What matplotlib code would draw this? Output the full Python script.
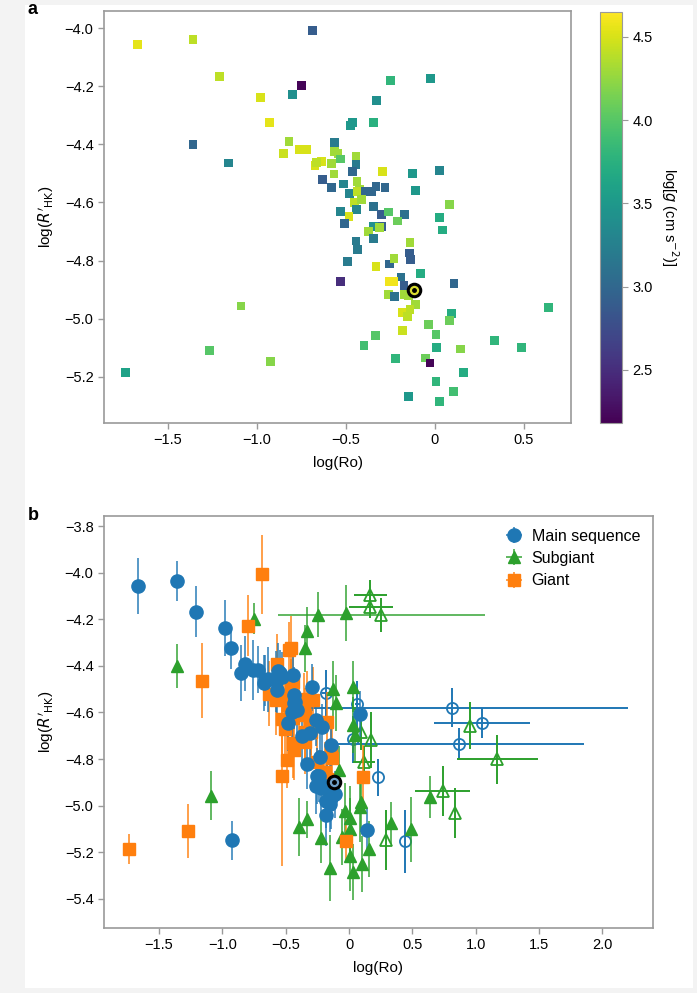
import numpy as np
import matplotlib
matplotlib.use("Agg")
import matplotlib.pyplot as plt
from matplotlib.patches import Rectangle
from matplotlib.ticker import FuncFormatter, MultipleLocator

plt.rcParams['font.family'] = ['Liberation Sans', 'DejaVu Sans']
plt.rcParams['font.size'] = 10

# star table (filled points): log(Ro), log(R'HK), log g, class, error on log(R'HK)
log_ro = [-1.67, -1.36, -1.21, -0.98, -0.93, -1.36, -1.16, -0.687, -0.749, -0.80,
          -0.82, -0.85, -0.76, -0.72, -0.674, -0.637, -0.665, -0.566, -0.565, -0.545,
          -0.530, -0.580, -0.567, -0.630, -0.580, -0.515, -0.530, -0.024, -0.249, -0.330,
          -0.462, -0.474, -0.347, -0.444, -0.444, -0.462, -0.294, -0.125, 0.028, -0.438,
          -0.425, -0.481, -0.433, -0.393, -0.356, -0.331, -0.281, -0.107, 0.084, -0.450,
          -0.412, -0.440, -0.347, -0.300, -0.262, -0.172, 0.028, -0.483, -0.506, -0.300,
          -0.347, -0.375, -0.310, -0.210, -0.347, -0.444, -0.437, -0.490, -0.530, -0.331,
          -0.257, -0.230, -0.140, -0.144, -0.135, -0.079, -0.191, -0.257, -0.234, -0.174,
          0.107, -0.262, -0.225, -0.174, -0.150, -0.109, -0.184, -0.140, -0.153, 0.640,
          0.094, 0.084, -0.034, -0.184, 0.006, -0.333, -0.399, 0.009, 0.144, 0.333,
          0.487, -0.223, -0.054, -0.028, 0.159, 0.006, 0.103, -0.150, 0.028, 0.043,
          -1.090, -1.268, -0.923, -1.740]
log_rhk = [-4.056, -4.037, -4.167, -4.239, -4.323, -4.400, -4.464, -4.008, -4.197, -4.228,
           -4.390, -4.430, -4.417, -4.417, -4.472, -4.458, -4.462, -4.392, -4.423, -4.430,
           -4.450, -4.466, -4.502, -4.520, -4.548, -4.536, -4.630, -4.173, -4.180, -4.249,
           -4.325, -4.334, -4.325, -4.440, -4.470, -4.492, -4.492, -4.500, -4.489, -4.527,
           -4.555, -4.570, -4.561, -4.561, -4.561, -4.544, -4.547, -4.560, -4.607, -4.600,
           -4.590, -4.624, -4.613, -4.641, -4.633, -4.641, -4.653, -4.647, -4.672, -4.682,
           -4.682, -4.699, -4.687, -4.664, -4.725, -4.733, -4.762, -4.803, -4.871, -4.820,
           -4.812, -4.793, -4.739, -4.774, -4.797, -4.846, -4.857, -4.873, -4.873, -4.886,
           -4.879, -4.917, -4.925, -4.917, -4.921, -4.952, -4.978, -4.969, -4.994, -4.963,
           -4.983, -5.006, -5.021, -5.041, -5.055, -5.059, -5.093, -5.099, -5.105, -5.075,
           -5.101, -5.138, -5.136, -5.153, -5.185, -5.217, -5.251, -5.268, -5.286, -4.695,
           -4.957, -5.109, -5.149, -5.187]
log_g = [4.55, 4.40, 4.40, 4.50, 4.55, 3.00, 3.30, 2.90, 2.20, 3.40,
         4.30, 4.45, 4.50, 4.50, 4.50, 4.50, 4.40, 3.20, 4.30, 4.30,
         4.00, 4.30, 4.30, 2.90, 3.00, 3.30, 3.30, 3.50, 3.80, 3.40,
         3.50, 3.50, 3.75, 4.30, 3.20, 3.00, 4.50, 3.50, 3.30, 4.30,
         4.30, 3.30, 4.40, 3.00, 3.00, 3.00, 3.00, 3.50, 4.20, 4.40,
         4.30, 3.30, 3.10, 2.90, 4.00, 3.10, 3.70, 4.50, 3.00, 2.90,
         3.40, 4.30, 4.30, 4.10, 3.20, 3.20, 3.20, 3.20, 2.50, 4.50,
         3.00, 4.30, 4.30, 2.90, 2.90, 3.70, 3.10, 4.60, 4.60, 2.90,
         3.00, 4.30, 3.10, 4.30, 4.30, 4.30, 4.50, 4.40, 4.40, 3.80,
         3.70, 4.10, 4.10, 4.45, 4.00, 4.00, 3.90, 3.70, 4.20, 3.80,
         3.80, 3.80, 4.10, 2.20, 3.70, 3.80, 3.90, 3.50, 3.80, 3.70,
         4.20, 4.00, 4.20, 3.60]
star_class = list("MMMMMSGGSG"
                  "MMMMMMMGMM"
                  "MMMGGGGSSS"
                  "GGSMGGMSSM"
                  "MGMGGGGSMM"
                  "MGGGMGSMGG"
                  "GMMMGGGGGM"
                  "GMMGGSGMMG"
                  "GMMMMMMMMS"
                  "SSSMSSSSMS"
                  "SSSGSSSSSS"
                  "SGMG")
rhk_err = [0.12, 0.085, 0.11, 0.12, 0.09, 0.095, 0.16, 0.17, 0.066, 0.13,
           0.12, 0.12, 0.13, 0.10, 0.12, 0.14, 0.11, 0.13, 0.12, 0.10,
           0.11, 0.13, 0.12, 0.14, 0.15, 0.12, 0.16, 0.12, 0.097, 0.10,
           0.14, 0.12, 0.10, 0.11, 0.13, 0.12, 0.10, 0.12, 0.11, 0.12,
           0.10, 0.14, 0.11, 0.12, 0.13, 0.12, 0.14, 0.12, 0.10, 0.12,
           0.11, 0.13, 0.12, 0.14, 0.11, 0.13, 0.12, 0.12, 0.15, 0.13,
           0.12, 0.11, 0.12, 0.10, 0.14, 0.15, 0.13, 0.12, 0.39, 0.11,
           0.13, 0.10, 0.12, 0.12, 0.14, 0.10, 0.13, 0.12, 0.11, 0.12,
           0.14, 0.12, 0.13, 0.12, 0.11, 0.10, 0.12, 0.13, 0.12, 0.09,
           0.13, 0.15, 0.12, 0.13, 0.14, 0.08, 0.125, 0.13, 0.095, 0.09,
           0.14, 0.11, 0.12, 0.09, 0.12, 0.15, 0.12, 0.14, 0.12, 0.12,
           0.105, 0.115, 0.085, 0.065]
# x error (lower, upper) for the filled points; only one star has a visible one
ro_err_lo = {28: 0.31}
ro_err_hi = {28: 1.32}

# hollow (panel b only) points
ms_open_ro = [-0.18, 0.066, 0.034, 0.232, 0.445, 0.816, 1.048, 0.866]
ms_open_rhk = [-4.518, -4.565, -4.716, -4.879, -5.152, -4.580, -4.644, -4.735]
ms_open_err = [0.10, 0.10, 0.10, 0.08, 0.135, 0.083, 0.065, 0.07]
ms_open_xlo = [0.03, 0.02, 0.02, 0.0, 0.0, 1.17, 0.38, 0.96]
ms_open_xhi = [0.03, 0.02, 0.02, 0.0, 0.0, 1.39, 0.38, 0.99]

sg_open_ro = [0.166, 0.166, 0.253, 0.092, 0.174, 0.121, 0.292, 0.740, 0.837, 0.956, 1.167]
sg_open_rhk = [-4.096, -4.146, -4.182, -4.683, -4.718, -4.814, -5.148, -4.937, -5.030, -4.657, -4.800]
sg_open_err = [0.063, 0.05, 0.073, 0.08, 0.12, 0.07, 0.13, 0.107, 0.107, 0.10, 0.105]
sg_open_xlo = [0.124, 0.164, 0.0, 0.0, 0.0, 0.09, 0.0, 0.22, 0.0, 0.0, 0.317]
sg_open_xhi = [0.137, 0.179, 0.0, 0.0, 0.0, 0.08, 0.0, 0.215, 0.0, 0.0, 0.323]

sun_ro, sun_rhk = -0.118, -4.90

C_MS, C_SG, C_GI = '#1f77b4', '#2ca02c', '#ff7f0e'
SPINE = '#9a9a9a'


def tick_fmt(v, pos):
    if abs(v) < 1e-9:
        return '0'
    return f'{v:.1f}'.replace('-', '\u2212')


def style_axes(ax):
    for s in ax.spines.values():
        s.set_color(SPINE)
        s.set_linewidth(1.2)
    ax.tick_params(direction='out', length=4, width=1, color=SPINE, labelsize=10.5)
    ax.xaxis.set_major_formatter(FuncFormatter(tick_fmt))
    ax.yaxis.set_major_formatter(FuncFormatter(tick_fmt))
    ax.set_xlabel('log(Ro)', fontsize=11, labelpad=6)
    ax.set_ylabel(r"log($R'_{\mathrm{HK}}$)", fontsize=11, labelpad=6)


fig = plt.figure(figsize=(6.97, 9.93), dpi=100, facecolor='#f3f3f3')
fig.patches.append(Rectangle((25 / 697, 1 - 988 / 993), 668 / 697, 983 / 993,
                             transform=fig.transFigure, facecolor='white',
                             edgecolor='none', zorder=-10))

# ---------------- panel a ----------------
ax1 = fig.add_axes([104 / 697, 1 - 423 / 993, 467 / 697, 412 / 993])
sc = ax1.scatter(log_ro, log_rhk, c=log_g, cmap='viridis', vmin=2.18, vmax=4.65,
                 marker='s', s=40, linewidths=0)
ax1.plot(sun_ro, sun_rhk, 'o', ms=9, mfc='#d8dc30', mec='black', mew=2.2)
ax1.plot(sun_ro, sun_rhk, 'o', ms=2.5, color='black')
ax1.set_xlim(-1.86, 0.765)
ax1.set_ylim(-5.36, -3.94)
ax1.xaxis.set_major_locator(MultipleLocator(0.5))
ax1.yaxis.set_major_locator(MultipleLocator(0.2))
style_axes(ax1)

cax = fig.add_axes([600 / 697, 1 - 423 / 993, 22 / 697, 411 / 993])
cb = fig.colorbar(sc, cax=cax, ticks=[2.5, 3.0, 3.5, 4.0, 4.5])
cb.outline.set_edgecolor(SPINE)
cb.ax.tick_params(length=4, color=SPINE, labelsize=10.5)
cb.set_label(r'log[$g$ (cm s$^{-2}$)]', rotation=270, labelpad=20, fontsize=10.5)

# ---------------- panel b ----------------
ax2 = fig.add_axes([104 / 697, 1 - 928 / 993, 549 / 697, 412 / 993])

groups = {'S': ('^', C_SG, 8.5), 'G': ('s', C_GI, 8.5), 'M': ('o', C_MS, 9.5)}
handles = {}
for cls in ['S', 'G', 'M']:
    idx = [i for i, c in enumerate(star_class) if c == cls]
    xs = [log_ro[i] for i in idx]
    ys = [log_rhk[i] for i in idx]
    ye = [rhk_err[i] for i in idx]
    xe = [[ro_err_lo.get(i, 0.0) for i in idx], [ro_err_hi.get(i, 0.0) for i in idx]]
    mk, col, ms = groups[cls]
    h = ax2.errorbar(xs, ys, yerr=ye, xerr=xe, fmt=mk, color=col, ms=ms,
                     ecolor=col, elinewidth=1.4, capsize=0, zorder=3)
    for lc in h[2]:
        lc.set_alpha(0.75)
    handles[cls] = h

ax2.errorbar(ms_open_ro, ms_open_rhk, yerr=ms_open_err, xerr=[ms_open_xlo, ms_open_xhi],
             fmt='o', ms=8, mfc='none', mec=C_MS, mew=1.3, ecolor=C_MS,
             elinewidth=1.4, capsize=0, zorder=2)
ax2.errorbar(sg_open_ro, sg_open_rhk, yerr=sg_open_err, xerr=[sg_open_xlo, sg_open_xhi],
             fmt='^', ms=8, mfc='none', mec=C_SG, mew=1.3, ecolor=C_SG,
             elinewidth=1.4, capsize=0, zorder=2)

ax2.plot(sun_ro, sun_rhk, 'o', ms=9, mfc='#6fa0c8', mec='black', mew=2.2, zorder=5)
ax2.plot(sun_ro, sun_rhk, 'o', ms=2.5, color='black', zorder=6)

ax2.set_xlim(-1.935, 2.40)
ax2.set_ylim(-5.525, -3.757)
ax2.xaxis.set_major_locator(MultipleLocator(0.5))
ax2.yaxis.set_major_locator(MultipleLocator(0.2))
style_axes(ax2)

ax2.legend([handles['M'], handles['S'], handles['G']],
           ['Main sequence', 'Subgiant', 'Giant'],
           loc='upper right', frameon=False, fontsize=11.5,
           handlelength=1.2, handletextpad=0.5, labelspacing=0.45,
           borderaxespad=0.4)

fig.text(28 / 697, 1 - 10 / 993, 'a', fontsize=13, fontweight='bold', va='center')
fig.text(28 / 697, 1 - 515 / 993, 'b', fontsize=13, fontweight='bold', va='center')

fig.savefig('out.png', dpi=100, facecolor=fig.get_facecolor())
